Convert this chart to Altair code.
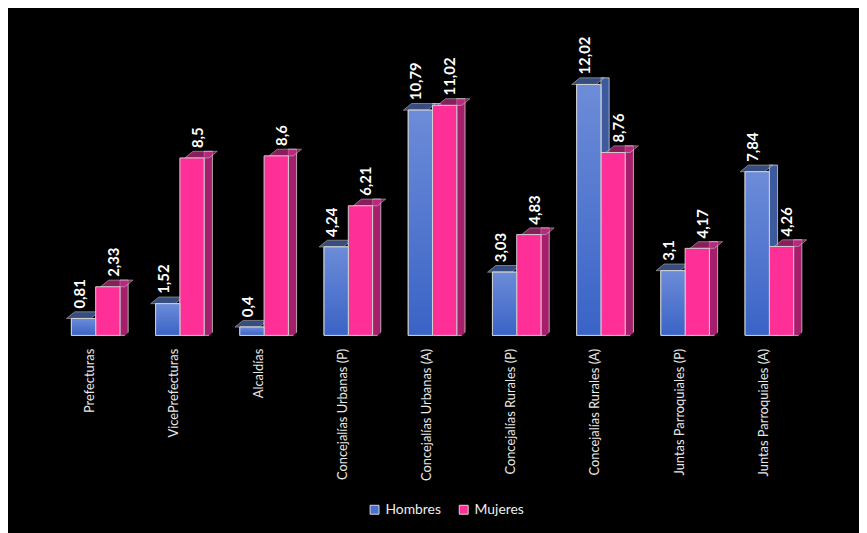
import altair as alt
import pandas as pd

categorias = ["Prefecturas", "VicePrefecturas", "Alcaldías", "Concejalías Urbanas (P)",
              "Concejalías Urbanas (A)", "Concejalías Rurales (P)", "Concejalías Rurales (A)",
              "Juntas Parroquiales (P)", "Juntas Parroquiales (A)"]
hombres = [0.81, 1.52, 0.4, 4.24, 10.79, 3.03, 12.02, 3.1, 7.84]
mujeres = [2.33, 8.5, 8.6, 6.21, 11.02, 4.83, 8.76, 4.17, 4.26]
series = ["Hombres", "Mujeres"]

rows = []
for c, h, m in zip(categorias, hombres, mujeres):
    rows.append({"Cargo": c, "Serie": "Hombres", "Valor": h})
    rows.append({"Cargo": c, "Serie": "Mujeres", "Valor": m})
df = pd.DataFrame(rows)

W, H = 765, 295
HW, DX, DY = 12.25, 8.3, 6.7
STROKE = "#d0d0d0"
PO = 0.735
OUTER = 2 * PO * (85 / (2 + 2 * PO))
K = DY / DX

x_enc = alt.X("Cargo:N", sort=categorias,
              scale=alt.Scale(paddingInner=0, paddingOuter=0),
              axis=alt.Axis(title=None, labelAngle=-90, domain=False, ticks=False,
                            labelPadding=13, labelOffset=-5.5, labelFont="Lato",
                            labelFontSize=13, labelColor="#e8e8e8", labelLimit=300))
xo_enc = alt.XOffset("Serie:N", sort=series,
                     scale=alt.Scale(domain=series, paddingInner=0, paddingOuter=PO))
xo_side = alt.XOffset("Serie:N", sort=series,
                      scale=alt.Scale(domain=series, paddingInner=0, paddingOuter=PO,
                                      align=0.5 + (HW + DX / 2) / OUTER))
y_enc = alt.Y("Valor:Q", scale=alt.Scale(domain=[0, 14], nice=False, zero=True), axis=None)
is_h = alt.datum.Serie == "Hombres"

base = alt.Chart(df)

side = base.transform_calculate(base0="0").mark_bar(
    width=DX, yOffset=-DY, stroke=STROKE, strokeWidth=0.8).encode(
    x=x_enc, xOffset=xo_side, y=y_enc, y2=alt.Y2("base0:Q"),
    fill=alt.condition(is_h, alt.value("#3d5a9c"), alt.value("#a51f6c")))

cover_path = (f"M{HW},0 L{HW + DX + 1.5},{-(DX + 1.5) * K:.2f} "
              f"L{HW + DX + 1.5},1.5 L{HW},1.5 Z")
cover = base.transform_calculate(Valor="0").mark_point(
    shape=cover_path, size=4, filled=True, fill="black", opacity=1).encode(
    x=x_enc, xOffset=xo_enc, y=y_enc)

top_path = f"M{-HW},0 L{HW},0 L{HW + DX},{-DY} L{-HW + DX},{-DY} Z"
top = base.mark_point(shape=top_path, size=4, filled=True, stroke=STROKE,
                      strokeWidth=0.8).encode(
    x=x_enc, xOffset=xo_enc, y=y_enc,
    fill=alt.condition(is_h, alt.value("#4f6db5"), alt.value("#c42c86")))

front = base.mark_bar(width=2 * HW, stroke=STROKE, strokeWidth=1).encode(
    x=x_enc, xOffset=xo_enc, y=y_enc,
    color=alt.Color("Serie:N", sort=series,
                    scale=alt.Scale(domain=series, range=["#4a6fcf", "#ff2f98"]),
                    legend=alt.Legend(title=None, orient="none", direction="horizontal",
                                      legendX=317, legendY=464, padding=0,
                                      symbolType="square", symbolSize=81,
                                      symbolStrokeColor="#d9d9d9", symbolStrokeWidth=1,
                                      symbolOpacity=1, labelFont="Lato", labelFontSize=14,
                                      labelColor="#eeeeee", labelOffset=4,
                                      columnPadding=15)))

grad = alt.Gradient(gradient="linear",
                    stops=[alt.GradientStop(color="#6d8cd8", offset=0),
                           alt.GradientStop(color="#3963c6", offset=1)],
                    x1=1, x2=1, y1=0, y2=1)
front_h = base.transform_filter("datum.Serie == 'Hombres'").mark_bar(
    width=2 * HW, stroke=STROKE, strokeWidth=1, color=grad).encode(
    x=x_enc, xOffset=xo_enc, y=y_enc)

labels = base.transform_calculate(
    etiqueta="replace(toString(datum.Valor), '.', ',')"
).mark_text(angle=270, align="left", baseline="middle", dx=10, dy=1, font="Lato",
            fontWeight="bold", fontSize=15, color="white").encode(
    x=x_enc, xOffset=xo_enc, y=y_enc, text="etiqueta:N")

chart = alt.layer(side, cover, top, front, front_h, labels).resolve_scale(
    xOffset="independent"
).properties(
    width=W, height=H,
    autosize=alt.AutoSizeParams(type="none"),
    padding={"left": 46, "top": 33, "right": 859 - 46 - W, "bottom": 525 - 33 - H},
    background="black",
).configure_view(stroke=None)

chart.save("out.html", embed_options={"renderer": "svg", "actions": False})
